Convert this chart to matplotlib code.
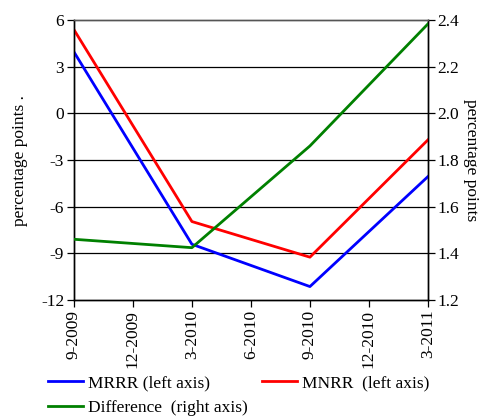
import matplotlib
matplotlib.use("Agg")
import matplotlib.pyplot as plt
from matplotlib.lines import Line2D

plt.rcParams['font.family'] = ['Liberation Serif', 'DejaVu Serif']

# Month offsets from 9-2009 and the quarterly tick labels
tick_pos = [0, 3, 6, 9, 12, 15, 18]
tick_labels = ["9-2009", "12-2009", "3-2010", "6-2010", "9-2010", "12-2010", "3-2011"]

# Semi-annual observations
obs_pos = [0, 6, 12, 18]
mrrr = [3.95, -8.42, -11.14, -4.07]
mnrr = [5.38, -6.96, -9.25, -1.71]
difference = [1.46, 1.424, 1.86, 2.383]

left_ticks = [6, 3, 0, -3, -6, -9, -12]
right_ticks = [1.2, 1.4, 1.6, 1.8, 2.0, 2.2, 2.4]

fig = plt.figure(figsize=(4.83, 4.16), dpi=100)
ax = fig.add_axes([0.153, 0.279, 0.733, 0.673])
ax2 = ax.twinx()

for y in left_ticks[1:-1]:
    ax.axhline(y, color="black", lw=0.9, zorder=1)

ax.plot(obs_pos, mrrr, color="#0000FF", lw=2, zorder=3)
ax.plot(obs_pos, mnrr, color="#FF0000", lw=2, zorder=3)
ax2.plot(obs_pos, difference, color="#008000", lw=2, zorder=3)

ax.set_xlim(0, 18)
ax.set_ylim(-12, 6)
ax2.set_ylim(1.2, 2.4)
ax.set_yticks(left_ticks)
ax.set_yticklabels([str(v) for v in left_ticks])
ax2.set_yticks(right_ticks)
ax2.set_yticklabels([f"{v:.1f}" for v in right_ticks])
ax.set_xticks(tick_pos)
ax.set_xticklabels(tick_labels, rotation=90)

for a in (ax, ax2):
    a.tick_params(labelsize=12.5, length=5, width=0.9, color="black", pad=2)
    for s in a.spines.values():
        s.set_linewidth(1.0)
ax.spines["top"].set_color("#555555")
ax2.spines["top"].set_color("#555555")

fig.text(0.042, 0.615, "percentage points .", rotation=90, ha="center", va="center", fontsize=12.5)
fig.text(0.975, 0.615, "percentage points", rotation=270, ha="center", va="center", fontsize=12.5)

handles = [
    Line2D([], [], color="#0000FF", lw=2),
    Line2D([], [], color="#FF0000", lw=2),
    Line2D([], [], color="#008000", lw=2),
]
labels = ["MRRR (left axis)", "MNRR  (left axis)", "Difference  (right axis)"]
fig.legend(handles[:2], labels[:2], loc="upper left", bbox_to_anchor=(0.1, 0.098),
           ncol=2, frameon=False, fontsize=12.5, handlelength=2.0, handletextpad=0.3,
           columnspacing=3.0, borderaxespad=0, borderpad=0)
fig.legend(handles[2:], labels[2:], loc="upper left", bbox_to_anchor=(0.1, 0.038),
           frameon=False, fontsize=12.5, handlelength=2.0, handletextpad=0.3,
           borderaxespad=0, borderpad=0)

fig.savefig("out.png", dpi=100)
